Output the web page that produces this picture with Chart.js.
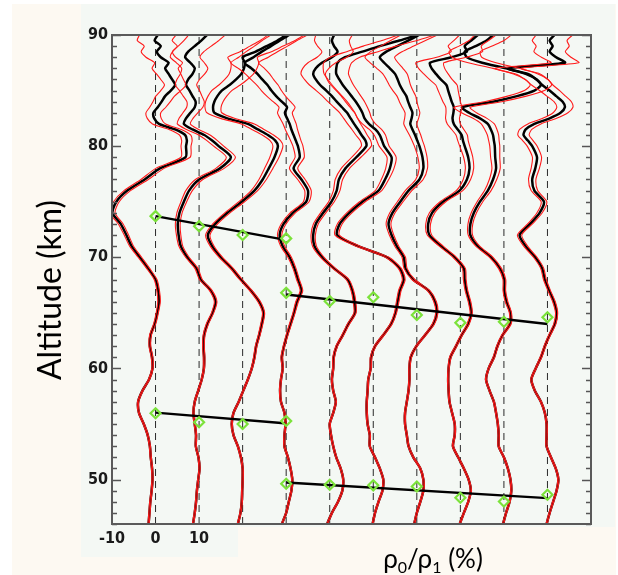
<!DOCTYPE html>
<html>
<head>
<meta charset="utf-8">
<script src="https://cdn.jsdelivr.net/npm/chart.js@4.4.1/dist/chart.umd.min.js"></script>
<style>
  html, body { margin: 0; padding: 0; background: #fff; }
  canvas { display: block; }
</style>
</head>
<body>
<canvas id="chart" width="618" height="575"></canvas>
<script>
// altitude levels (km) shared by every profile: 1 km steps, then 0.5 km above 80 km
const altitudes = [46, 47, 48, 49, 50, 51, 52, 53, 54, 55, 56, 57, 58, 59, 60, 61, 62, 63, 64, 65,
  66, 67, 68, 69, 70, 71, 72, 73, 74, 75, 76, 77, 78, 79, 80,
  80.5, 81, 81.5, 82, 82.5, 83, 83.5, 84, 84.5, 85, 85.5, 86, 86.5, 87, 87.5, 88, 88.5, 89, 89.5, 90];

// each profile is shifted by 10 % from the previous one
const offsets = [0, 10, 20, 30, 40, 50, 60, 70, 80, 90];

// density perturbation (%) of each profile, read at the altitudes above
const dev0 = [-1.6, -1.4, -1.2, -0.9, -0.7, -0.8, -1.1, -1.3, -1.8, -2.7, -3.8, -4.0, -3.0, -1.5, -0.7, -0.8, -1.3, -1.15, -0.2, 0.4,
  0.8, 0.6, 0.0, -1.7, -3.6, -5.5, -6.7, -8.0, -9.9, -9.0, -6.5, -2.5, 1.0, 6.9, 7.0,
  7.2, 6.8, 4.5, 0.8, -0.3, -0.5, 0.5, 1.4, 2.2, 3.5, 4.5, 3.8, 3.0, 2.2, 3.0, 1.2, 0.3, 1.2, -0.2, 0.5];
const dev1 = [-1.4, -1.0, -0.7, -0.5, -0.2, 0.1, -0.15, -0.75, -0.7, -1.0, -1.3, -1.0, -0.2, 0.6, 1.1, 1.15, 1.0, 1.15, 1.9, 3.1,
  3.8, 2.7, 0.4, -0.6, -2.7, -4.2, -4.7, -4.9, -4.5, -3.5, -2.3, 0.0, 4.8, 7.3, 4.5,
  3.0, 1.2, -1.5, -3.5, -3.0, -2.0, -1.0, -0.8, -1.5, -2.2, -3.0, -2.5, -1.5, -1.0, -2.0, -3.2, -2.5, -1.0, 0.5, 1.8];
const dev2 = [-1.1, -0.5, -0.2, -0.1, 0.0, 0.0, -0.4, -1.1, -2.1, -2.5, -2.1, -0.9, 0.15, 1.2, 2.1, 2.7, 3.1, 3.8, 4.4, 4.8,
  3.8, 1.9, -0.4, -2.5, -5.0, -7.0, -8.0, -6.3, -3.5, -0.2, 2.7, 4.6, 6.0, 7.3, 8.1,
  7.5, 5.8, 3.5, 1.2, -3.5, -6.5, -6.8, -6.5, -5.8, -4.8, -3.0, -1.5, -0.3, 0.3, 0.5, 0.0, 3.0, 5.5, 8.0, 10.0];
const dev3 = [-1.0, 0.0, 0.6, 1.2, 1.4, 1.0, 0.4, -0.4, -0.4, -0.15, -0.4, -1.2, -1.4, -1.2, -0.8, -1.0, -0.5, 0.2, 1.0, 1.8,
  2.5, 3.5, 2.7, 1.9, 0.8, -0.8, -1.5, -0.6, 1.5, 4.6, 5.0, 3.5, 1.7, 3.1, 2.7,
  2.2, 1.7, 1.2, 0.8, 0.2, -0.3, 0.2, -1.0, -2.3, -3.4, -4.3, -5.5, -6.6, -8.0, -9.5, -7.5, -5.6, -3.5, -1.5, 0.7];
const dev4 = [-0.6, 0.5, 1.9, 2.9, 3.1, 2.5, 1.5, 0.8, 0.3, 0.0, 0.8, 1.4, 0.8, 0.5, 0.8, 0.9, 1.6, 3.0, 4.3, 5.8,
  5.7, 5.2, 4.1, 1.0, -1.7, -3.5, -3.8, -3.2, -1.5, 0.4, 1.6, 2.1, 3.6, 6.1, 8.4,
  8.2, 7.3, 6.5, 5.6, 4.8, 4.0, 2.8, 1.6, 0.5, -0.8, -2.2, -3.2, -3.8, -3.2, -1.8, 0.5, 1.8, 1.0, 0.5, 1.0];
const dev5 = [-0.15, 0.4, 1.2, 2.1, 2.3, 1.5, 0.4, -0.8, -0.8, -1.3, -1.5, -1.5, -1.3, -1.15, -0.6, -0.5, 0.4, 2.3, 4.1, 5.1,
  5.6, 6.1, 7.0, 6.1, 3.2, -3.5, -8.3, -7.7, -5.5, -2.5, 1.2, 2.7, 3.8, 4.2, 2.5,
  2.0, 1.5, 0.5, -1.0, -2.0, -2.5, -3.2, -4.0, -5.0, -6.0, -7.0, -7.8, -8.5, -8.5, -8.2, -6.5, -2.5, 1.5, 6.0, 10.0];
const dev6 = [-0.6, 0.0, 0.8, 1.5, 1.5, 0.8, -0.8, -1.9, -2.3, -2.7, -2.7, -2.3, -1.9, -1.7, -1.7, -1.4, -0.1, 1.9, 3.8, 4.6,
  4.2, 2.7, -0.8, -2.6, -3.0, -4.6, -5.8, -6.5, -5.6, -3.8, -1.9, 0.6, 1.5, 1.3, 0.6,
  0.1, -0.4, -1.0, -1.5, -1.2, -1.0, -1.5, -2.0, -2.4, -3.2, -3.9, -4.4, -5.0, -6.2, -7.5, -8.5, -7.0, -4.5, -2.0, 0.5];
const dev7 = [-0.15, 0.8, 1.8, 2.4, 1.9, 0.8, -0.5, -1.7, -1.3, -1.3, -1.9, -2.5, -2.7, -2.8, -2.7, -2.3, -1.0, 0.3, 1.8, 2.5,
  2.1, 1.4, 1.0, 0.8, -1.3, -4.4, -7.1, -7.4, -6.5, -4.0, -0.2, 1.5, 2.1, 1.8, 1.0,
  0.6, 0.3, -0.6, -1.5, -1.8, -1.6, -1.5, -2.0, -2.4, -2.8, -3.2, -4.5, -5.6, -6.6, -7.0, -2.0, 1.5, 1.0, 2.5, 4.0];
const dev8 = [-0.2, 0.5, 1.3, 1.7, 1.5, 0.9, 0.0, -1.2, -1.2, -1.4, -1.8, -2.3, -3.3, -4.1, -3.5, -2.3, -1.5, -0.3, 1.4, 1.5,
  0.6, 0.1, 0.1, -0.9, -2.9, -6.0, -7.7, -7.7, -6.9, -5.5, -3.7, -2.5, -1.8, -2.0, -2.1,
  -2.3, -2.5, -3.0, -3.7, -5.5, -8.0, -9.6, -2.5, 3.0, 7.0, 8.5, 7.5, 5.0, 0.5, -5.0, -8.5, -9.0, -6.5, -4.0, -2.5];
const dev9 = [-0.2, 0.5, 1.3, 2.1, 2.5, 1.9, 0.8, -0.2, -0.2, -0.2, -0.6, -1.5, -2.9, -3.7, -2.7, -1.5, -0.6, 0.5, 1.7, 2.1,
  1.5, 0.4, -0.6, -1.2, -2.8, -5.0, -6.4, -4.0, -1.8, -0.8, -3.0, -3.5, -2.8, -2.4, -3.5,
  -4.5, -5.5, -5.0, -3.0, 0.5, 3.0, 4.0, 3.5, 2.0, 0.5, -1.2, -2.5, -4.5, -9.0, 4.0, 2.0, 0.5, 1.2, 0.5, 1.6];
const profiles = [dev0, dev1, dev2, dev3, dev4, dev5, dev6, dev7, dev8, dev9];

// uncertainty (%) drawn as the red envelope, per altitude
const errs = [0.15, 0.15, 0.15, 0.15, 0.15, 0.15, 0.15, 0.15, 0.15, 0.15, 0.15, 0.15, 0.15, 0.15, 0.15, 0.2, 0.2, 0.22, 0.25, 0.25,
  0.3, 0.3, 0.32, 0.35, 0.4, 0.45, 0.5, 0.55, 0.6, 0.65, 0.75, 0.85, 0.95, 1.05, 1.15,
  1.2, 1.3, 1.4, 1.5, 1.6, 1.7, 1.85, 2.0, 2.15, 2.3, 2.45, 2.6, 2.8, 3.0, 3.2, 3.4, 3.6, 3.8, 4.0, 4.2];

// green markers (altitude of the feature on each profile) and fitted lines
const markOffsetsLeft = [0, 10, 20, 30];
const markOffsetsRight = [30, 40, 50, 60, 70, 80, 90];
const marksA = [73.7, 72.8, 72.0, 71.7];
const marksB = [66.8, 66.05, 66.4, 64.8, 64.1, 64.2, 64.6];
const marksC = [55.97, 55.15, 55.0, 55.27];
const marksD = [49.62, 49.53, 49.48, 49.38, 48.36, 48.03, 48.63];
const fitA = [[0, 73.7], [28.6, 71.65]];
const fitB = [[30, 66.65], [90, 64.0]];
const fitC = [[0, 56.02], [29.6, 55.06]];
const fitD = [[30, 49.73], [90, 48.33]];

const tickFont = {family: "'Liberation Sans Narrow', 'DejaVu Sans Condensed', sans-serif", size: 16, weight: "bold"};
const titleFamily = "Lato, 'Open Sans', sans-serif";

const datasets = [];

profiles.forEach((dev, i) => {
  const base = offsets[i];
  datasets.push({
    data: altitudes.map((a, k) => ({x: base + dev[k], y: a})),
    borderColor: "#000",
    borderWidth: 2.5,
    tension: 0.25,
    order: 3,
  });
  [-1, 1].forEach(sign => {
    datasets.push({
      data: altitudes.map((a, k) => ({x: base + dev[k] + sign * errs[k], y: a})),
      borderColor: "#ff1a1a",
      borderWidth: 1.1,
      tension: 0.25,
      order: 2,
    });
  });
  // dashed zero line of the profile
  datasets.push({
    data: [{x: base, y: 46}, {x: base, y: 90}],
    borderColor: "#2a2a2a",
    borderWidth: 1,
    borderDash: [7, 5],
    order: 4,
  });
});

[fitA, fitB, fitC, fitD].forEach(fit => {
  datasets.push({
    data: fit.map(p => ({x: p[0], y: p[1]})),
    borderColor: "#000",
    borderWidth: 2.4,
    order: 1,
  });
});

[[markOffsetsLeft, marksA], [markOffsetsRight, marksB], [markOffsetsLeft, marksC], [markOffsetsRight, marksD]].forEach(([xs, ys]) => {
  datasets.push({
    data: ys.map((y, k) => ({x: xs[k], y})),
    showLine: false,
    pointStyle: "rectRot",
    pointRadius: 5,
    pointBorderWidth: 2.2,
    pointBorderColor: "#7be23a",
    pointBackgroundColor: "rgba(0,0,0,0)",
    order: 0,
  });
});

const backdrop = {
  id: "backdrop",
  beforeDraw(chart) {
    const ctx = chart.ctx;
    ctx.save();
    ctx.fillStyle = "#ffffff";
    ctx.fillRect(0, 0, chart.width, chart.height);
    ctx.fillStyle = "#fdf9f2";
    ctx.fillRect(12, 4, 604, 571);
    ctx.fillStyle = "#f4f8f4";
    ctx.fillRect(81, 4, 534, 523);
    ctx.fillRect(81, 527, 157, 30);
    ctx.restore();
  },
};

const frame = {
  id: "frame",
  afterDatasetsDraw(chart) {
    const {ctx, chartArea: a, scales} = chart;
    ctx.save();
    ctx.strokeStyle = "#555";
    ctx.lineWidth = 1.3;
    scales.y.ticks.forEach(t => {
      const y = Math.round(scales.y.getPixelForValue(t.value)) + 0.5;
      const len = t.value % 10 === 0 ? 9 : 5;
      ctx.beginPath();
      ctx.moveTo(a.left, y);
      ctx.lineTo(a.left + len, y);
      ctx.moveTo(a.right, y);
      ctx.lineTo(a.right - len, y);
      ctx.stroke();
    });
    ctx.lineWidth = 2;
    ctx.strokeStyle = "#5a5a5a";
    ctx.strokeRect(a.left, a.top, a.right - a.left, a.bottom - a.top);
    ctx.restore();
  },
};

const titles = {
  id: "titles",
  afterDraw(chart) {
    const ctx = chart.ctx;
    ctx.save();
    ctx.fillStyle = "#000";
    // y title, fitted to the length seen in the picture
    const yText = "Altitude (km)";
    let size = 28;
    ctx.font = `${size}px ${titleFamily}`;
    size = size * 180 / ctx.measureText(yText).width;
    ctx.font = `${size}px ${titleFamily}`;
    ctx.translate(61, 290);
    ctx.rotate(-Math.PI / 2);
    ctx.textAlign = "center";
    ctx.textBaseline = "alphabetic";
    ctx.fillText(yText, 0, 0);
    ctx.restore();

    // x title with subscripts
    ctx.save();
    ctx.fillStyle = "#000";
    const parts = [["ρ", 0], ["0", 1], ["/ρ", 0], ["1", 1], [" (%)", 0]];
    const big = `26px ${titleFamily}`;
    const small = `16px ${titleFamily}`;
    let total = 0;
    parts.forEach(([s, sub]) => {
      ctx.font = sub ? small : big;
      total += ctx.measureText(s).width;
    });
    let x = 433 - total / 2;
    ctx.textAlign = "left";
    parts.forEach(([s, sub]) => {
      ctx.font = sub ? small : big;
      ctx.fillText(s, x, sub ? 573 : 568);
      x += ctx.measureText(s).width;
    });
    ctx.restore();
  },
};

new Chart(document.getElementById("chart"), {
  type: "scatter",
  data: {datasets},
  options: {
    responsive: false,
    animation: false,
    showLine: true,
    elements: {point: {radius: 0, hoverRadius: 0}},
    layout: {padding: {left: 0, right: 27, top: 35, bottom: 0}},
    plugins: {legend: {display: false}, tooltip: {enabled: false}},
    scales: {
      x: {
        type: "linear",
        min: -10,
        max: 100,
        grid: {display: false, drawTicks: false},
        border: {display: false},
        ticks: {
          stepSize: 10,
          autoSkip: false,
          maxRotation: 0,
          padding: 5,
          color: "#1a1a1a",
          font: tickFont,
          callback: v => (v <= 10 ? String(v) : ""),
        },
        afterFit: s => { s.height = 51; },
      },
      y: {
        min: 46,
        max: 90,
        grid: {display: false, drawTicks: false},
        border: {display: false},
        ticks: {
          stepSize: 1,
          autoSkip: false,
          padding: 4,
          color: "#1a1a1a",
          font: tickFont,
          callback: v => (v % 10 === 0 ? String(v) : ""),
        },
        afterFit: s => { s.width = 112; },
      },
    },
  },
  plugins: [backdrop, frame, titles],
});
</script>
</body>
</html>
